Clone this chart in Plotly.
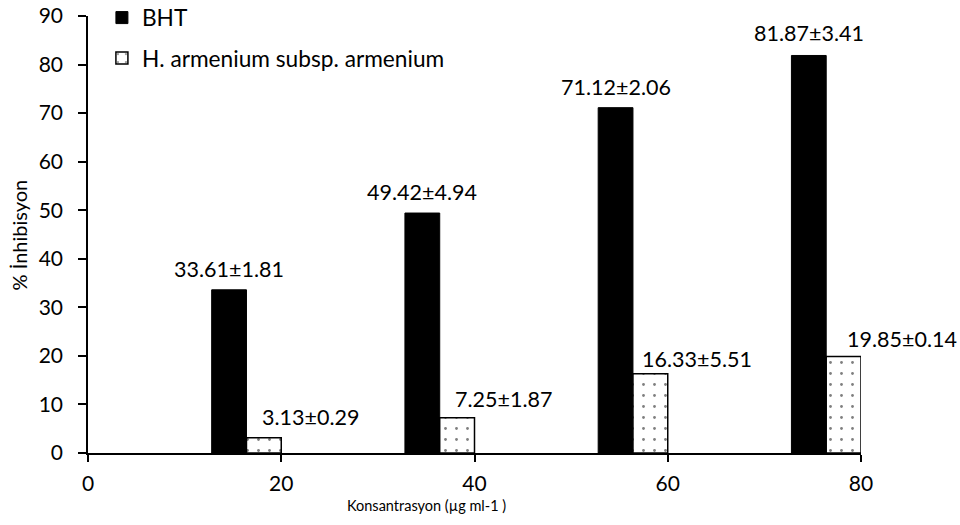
import plotly.graph_objects as go

# ---- data ----
concentrations = [20, 40, 60, 80]
bht_values = [33.61, 49.42, 71.12, 81.87]
bht_sd = [1.81, 4.94, 2.06, 3.41]
ha_values = [3.13, 7.25, 16.33, 19.85]
ha_sd = [0.29, 1.87, 5.51, 0.14]
series_names = ["BHT", "H. armenium subsp. armenium"]
x_tick_vals = [0, 20, 40, 60, 80]
y_tick_vals = [0, 10, 20, 30, 40, 50, 60, 70, 80, 90]

# ---- style ----
FONT = "Lato"
BAR_W = 3.6
bht_label_shift = [(0, 21), (0, 21), (0, 21), (0, 22)]
ha_label_shift = [(47, 21), (46, 19), (47, 15), (58, 18)]

fig = go.Figure()
fig.add_trace(go.Bar(
    x=concentrations, y=bht_values, name=series_names[0],
    width=BAR_W, offset=-2 * BAR_W,
    marker=dict(color="black", line=dict(color="black", width=1)),
    legendgroup="a",
))
fig.add_trace(go.Bar(
    x=concentrations, y=ha_values, name=series_names[1],
    width=BAR_W, offset=-BAR_W,
    marker=dict(color="white", line=dict(color="black", width=1.5),
                pattern=dict(shape=".", fgcolor="black", bgcolor="white",
                             size=11, solidity=0.05, fillmode="overlay")),
    legendgroup="b",
))

annotations = []
for c, v, s, (dx, dy) in zip(concentrations, bht_values, bht_sd, bht_label_shift):
    annotations.append(dict(x=c - 1.5 * BAR_W, y=v, xref="x", yref="y",
                            text=f"{v:.2f}±{s:.2f}", showarrow=False,
                            xanchor="center", yanchor="middle",
                            xshift=dx, yshift=dy,
                            font=dict(family=FONT, size=21.5, color="black")))
for c, v, s, (dx, dy) in zip(concentrations, ha_values, ha_sd, ha_label_shift):
    annotations.append(dict(x=c - 0.5 * BAR_W, y=v, xref="x", yref="y",
                            text=f"{v:.2f}±{s:.2f}", showarrow=False,
                            xanchor="center", yanchor="middle",
                            xshift=dx, yshift=dy,
                            font=dict(family=FONT, size=21.5, color="black")))
# axis titles
annotations.append(dict(x=0.438, y=-0.121, xref="paper", yref="paper",
                        text="Konsantrasyon (µg ml-1 )", showarrow=False,
                        xanchor="center", yanchor="middle",
                        font=dict(family=FONT, size=14.5, color="black")))
annotations.append(dict(x=-0.0893, y=0.5, xref="paper", yref="paper",
                        text="% İnhibisyon", showarrow=False, textangle=-90,
                        xanchor="center", yanchor="middle",
                        font=dict(family=FONT, size=20, color="black")))

fig.update_layout(
    width=960, height=525,
    margin=dict(l=88, r=99, t=16, b=72, autoexpand=False),
    paper_bgcolor="white", plot_bgcolor="white",
    font=dict(family=FONT, size=21, color="black"),
    barmode="overlay",
    showlegend=True,
    legend=dict(x=0.018, y=1.045, xanchor="left", yanchor="top",
                traceorder="grouped", tracegroupgap=8,
                font=dict(family=FONT, size=22.7, color="black"),
                bgcolor="rgba(0,0,0,0)"),
    annotations=annotations,
)
fig.update_xaxes(
    range=[0, 80], tickvals=x_tick_vals, ticks="outside", ticklen=7,
    tickwidth=1.5, tickcolor="black", showline=True, linecolor="black",
    linewidth=1.5, showgrid=False, zeroline=False, ticklabelstandoff=4,
    automargin=False, ticklabeloverflow="allow",
    tickfont=dict(family=FONT, size=21, color="black"),
)
fig.update_yaxes(
    range=[0, 90], tickvals=y_tick_vals, ticks="outside", ticklen=8,
    tickwidth=1.5, tickcolor="black", showline=True, linecolor="black",
    linewidth=1.5, showgrid=False, zeroline=False, ticklabelstandoff=11,
    automargin=False, ticklabeloverflow="allow",
    tickfont=dict(family=FONT, size=21, color="black"),
)

fig.write_html("out.html", config={"displayModeBar": False},
               post_script="document.body.style.margin='0';")
